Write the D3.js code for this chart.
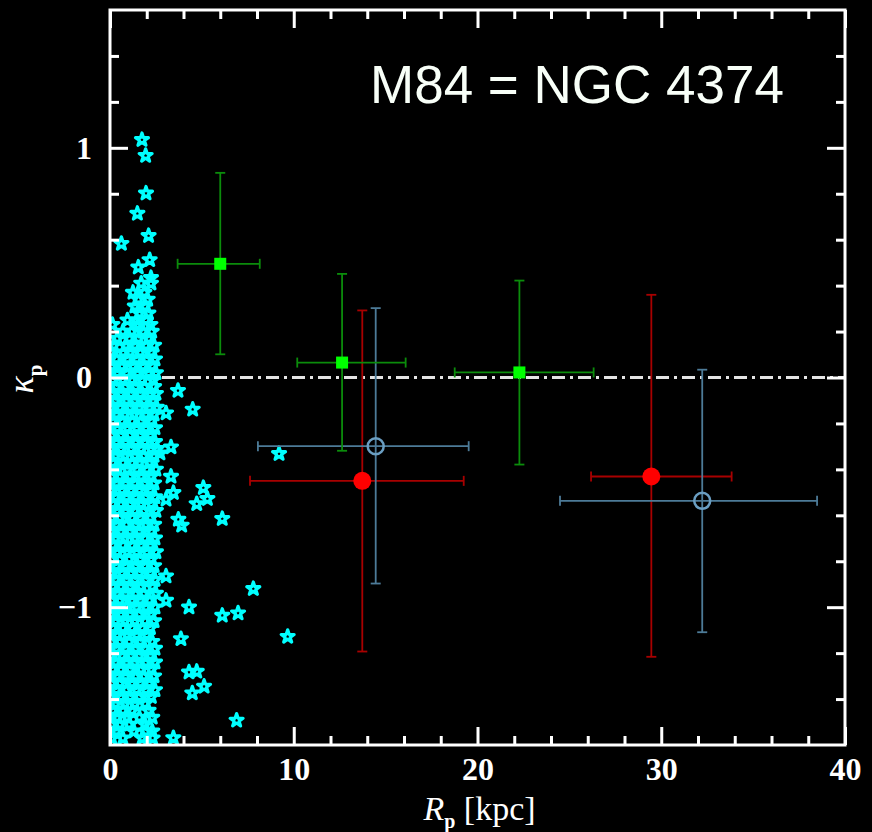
<!DOCTYPE html>
<html>
<head>
<meta charset="utf-8">
<script src="https://cdn.jsdelivr.net/npm/d3@7"></script>
<style>
  html, body { margin: 0; padding: 0; background: #000; }
  svg { display: block; }
</style>
</head>
<body>
<div id="chart"></div>
<script>
// Axis ticks
const xMajorTicks = [0, 10, 20, 30, 40];
const xMinorTicks = [2, 4, 6, 8, 12, 14, 16, 18, 22, 24, 26, 28, 32, 34, 36, 38];
const yMajorTicks = [-1, 0, 1];
const yMinorTicks = [-1.4, -1.2, -0.8, -0.6, -0.4, -0.2, 0.2, 0.4, 0.6, 0.8, 1.2, 1.4];

// Binned measurements: [R, kappa, R low, R high, kappa low, kappa high]
const greenBins = [
    [6.00, 0.495, 3.68, 8.15, 0.101, 0.891],
    [12.63, 0.065, 10.19, 16.09, -0.319, 0.451],
    [22.28, 0.022, 18.76, 26.32, -0.379, 0.422]
];
const redBins = [
    [13.73, -0.450, 7.62, 19.25, -1.193, 0.292],
    [29.46, -0.431, 26.18, 33.83, -1.216, 0.360]
];
const blueBins = [
    [14.46, -0.299, 8.05, 19.52, -0.897, 0.302],
    [32.23, -0.537, 24.49, 38.48, -1.109, 0.034]
];

// Individual stars away from the main column: [R, kappa]
const outlierStars = [
    [1.74, 1.035], [1.94, 0.966], [1.96, 0.802], [1.49, 0.714], [2.10, 0.617],
    [0.62, 0.583], [2.16, 0.512], [1.54, 0.480], [2.23, 0.434],
    [3.70, -0.057], [4.50, -0.139], [3.05, -0.155], [3.32, -0.303], [2.72, -0.330],
    [9.20, -0.332], [3.32, -0.431], [3.45, -0.502], [3.05, -0.531], [5.08, -0.480],
    [5.30, -0.528], [4.72, -0.550], [3.72, -0.618], [3.90, -0.644], [6.11, -0.615],
    [3.05, -0.865], [7.80, -0.920], [3.05, -0.971], [4.30, -1.000], [6.11, -1.036],
    [6.97, -1.026], [3.86, -1.138], [9.67, -1.128], [4.30, -1.283], [4.72, -1.280],
    [5.12, -1.345], [4.48, -1.374], [6.89, -1.493], [3.45, -1.569], [2.32, -1.570]
];

// Dense inner column of stars, read row by row: [kappa, [R values]]
const clusterRows = [
    [0.41, [1.70, 2.23]],
    [0.37, [1.25, 1.87]],
    [0.34, [1.55, 2.05]],
    [0.31, [1.35, 1.90]],
    [0.28, [1.60, 2.09]],
    [0.25, [0.95, 1.45, 1.95]],
    [0.23, [0.13, 1.54, 2.20]],
    [0.20, [0.70, 1.18, 1.80, 2.27]],
    [0.17, [0.40, 1.05, 1.55, 2.10]],
    [0.14, [0.20, 0.85, 1.35, 1.95, 2.40]],
    [0.11, [0.05, 0.72, 1.10, 1.65, 2.25]],
    [0.08, [0.35, 0.95, 1.45, 2.00, 2.45]],
    [0.05, [0.10, 0.65, 1.25, 1.80, 2.30]],
    [0.02, [0.40, 0.90, 1.50, 2.10, 2.50]],
    [-0.01, [0.15, 0.70, 1.20, 1.75, 2.35]],
    [-0.04, [0.35, 0.85, 1.40, 1.90, 2.40]],
    [-0.07, [0.10, 0.60, 1.15, 1.65, 2.20, 2.50]],
    [-0.10, [0.30, 0.90, 1.35, 1.85, 2.35]],
    [-0.13, [0.05, 0.55, 1.10, 1.60, 2.15, 2.55]],
    [-0.16, [0.35, 0.80, 1.30, 1.95, 2.40]],
    [-0.19, [0.15, 0.65, 1.20, 1.70, 2.25]],
    [-0.22, [0.40, 0.95, 1.45, 1.95, 2.45]],
    [-0.25, [0.10, 0.60, 1.10, 1.65, 2.20]],
    [-0.28, [0.35, 0.85, 1.40, 1.90, 2.45]],
    [-0.31, [0.05, 0.60, 1.15, 1.70, 2.25, 2.55]],
    [-0.34, [0.30, 0.80, 1.35, 1.85, 2.40]],
    [-0.37, [0.15, 0.70, 1.20, 1.60, 2.15]],
    [-0.40, [0.40, 0.95, 1.45, 2.00, 2.50]],
    [-0.43, [0.10, 0.55, 1.10, 1.70, 2.25]],
    [-0.46, [0.35, 0.85, 1.35, 1.90, 2.40]],
    [-0.49, [0.05, 0.65, 1.15, 1.60, 2.20]],
    [-0.52, [0.30, 0.90, 1.40, 1.95, 2.45]],
    [-0.55, [0.15, 0.60, 1.10, 1.70, 2.25]],
    [-0.58, [0.40, 0.85, 1.35, 1.85, 2.50]],
    [-0.61, [0.10, 0.55, 1.20, 1.65, 2.20]],
    [-0.64, [0.35, 0.90, 1.40, 1.95, 2.40]],
    [-0.67, [0.05, 0.60, 1.10, 1.60, 2.25]],
    [-0.70, [0.30, 0.80, 1.35, 1.90, 2.45]],
    [-0.73, [0.15, 0.70, 1.20, 1.70, 2.20]],
    [-0.76, [0.40, 0.95, 1.45, 2.00, 2.50]],
    [-0.79, [0.10, 0.55, 1.05, 1.65, 2.25]],
    [-0.82, [0.35, 0.85, 1.40, 1.90, 2.40]],
    [-0.85, [0.05, 0.65, 1.15, 1.60, 2.20]],
    [-0.88, [0.30, 0.90, 1.35, 1.95, 2.45]],
    [-0.91, [0.15, 0.60, 1.10, 1.70, 2.30]],
    [-0.94, [0.40, 0.85, 1.40, 1.85, 2.50]],
    [-0.97, [0.10, 0.55, 1.20, 1.65, 2.15]],
    [-1.00, [0.35, 0.90, 1.45, 1.95, 2.45]],
    [-1.03, [0.05, 0.60, 1.10, 1.60, 2.25]],
    [-1.06, [0.30, 0.80, 1.35, 1.90, 2.40]],
    [-1.09, [0.15, 0.70, 1.20, 1.75, 2.20]],
    [-1.12, [0.40, 0.95, 1.45, 2.00]],
    [-1.15, [0.10, 0.55, 1.05, 1.65, 2.30]],
    [-1.18, [0.35, 0.85, 1.40, 1.90, 2.45]],
    [-1.21, [0.05, 0.65, 1.15, 1.60, 2.20]],
    [-1.24, [0.30, 0.90, 1.35, 1.95, 2.45]],
    [-1.27, [0.15, 0.60, 1.10, 1.70, 2.25]],
    [-1.30, [0.40, 0.85, 1.40, 1.85, 2.40]],
    [-1.33, [0.10, 0.55, 1.20, 1.65, 2.15]],
    [-1.36, [0.35, 0.90, 1.45, 1.95, 2.45]],
    [-1.39, [0.05, 0.60, 1.10, 1.60, 2.25]],
    [-1.42, [0.30, 0.80, 1.35, 1.90]],
    [-1.45, [0.15, 0.70, 1.20, 2.10]],
    [-1.48, [0.40, 0.95, 1.60, 2.30]],
    [-1.51, [0.10, 0.55, 1.05, 1.90]],
    [-1.54, [0.35, 1.30, 1.95, 2.30]],
    [-1.57, [0.10, 0.70, 1.75]]
];

const stars = outlierStars.concat(
    clusterRows.flatMap(([k, rs]) => rs.map(r => [r, k]))
);

// SVG setup
const margin = { top: 10, right: 27, bottom: 87, left: 110 };
const width = 735;
const height = 735;

const svg = d3.select("#chart")
    .append("svg")
    .attr("width", 872)
    .attr("height", 832)
    .style("background", "#000");

const g = svg.append("g")
    .attr("transform", `translate(${margin.left},${margin.top})`);

// Scales
const x = d3.scaleLinear().domain([0, 40]).range([0, width]);
const y = d3.scaleLinear().domain([-1.6, 1.6]).range([height, 0]);

g.append("clipPath")
    .attr("id", "plot-clip")
    .append("rect")
    .attr("width", width)
    .attr("height", height);

const plot = g.append("g").attr("clip-path", "url(#plot-clip)");

// Zero line (dash-dot)
plot.append("line")
    .attr("x1", x(0))
    .attr("x2", x(40))
    .attr("y1", y(0))
    .attr("y2", y(0))
    .attr("stroke", "#e4e4e4")
    .attr("stroke-width", 3)
    .attr("stroke-dasharray", "13,5,3,5");

// Stars
plot.selectAll(".star")
    .data(stars)
    .enter()
    .append("path")
    .attr("class", "star")
    .attr("transform", d => `translate(${x(d[0])},${y(d[1])})`)
    .attr("d", d3.symbol(d3.symbolStar).size(52))
    .attr("fill", "none")
    .attr("stroke", "#00ffff")
    .attr("stroke-width", 3.2)
    .attr("stroke-linejoin", "round");

// Error bars
function drawErrors(data, color) {
    const cap = 5;
    const grp = plot.append("g")
        .attr("stroke", color)
        .attr("stroke-width", 1.8)
        .attr("fill", "none");
    data.forEach(d => {
        const [r, k, r0, r1, k0, k1] = d;
        grp.append("line").attr("x1", x(r0)).attr("x2", x(r1)).attr("y1", y(k)).attr("y2", y(k));
        grp.append("line").attr("x1", x(r)).attr("x2", x(r)).attr("y1", y(k0)).attr("y2", y(k1));
        grp.append("line").attr("x1", x(r0)).attr("x2", x(r0)).attr("y1", y(k) - cap).attr("y2", y(k) + cap);
        grp.append("line").attr("x1", x(r1)).attr("x2", x(r1)).attr("y1", y(k) - cap).attr("y2", y(k) + cap);
        grp.append("line").attr("x1", x(r) - cap).attr("x2", x(r) + cap).attr("y1", y(k0)).attr("y2", y(k0));
        grp.append("line").attr("x1", x(r) - cap).attr("x2", x(r) + cap).attr("y1", y(k1)).attr("y2", y(k1));
    });
}

drawErrors(redBins, "#a80000");
drawErrors(blueBins, "#4d7b98");
drawErrors(greenBins, "#0b8c0b");

// Markers
plot.selectAll(".red-pt")
    .data(redBins)
    .enter()
    .append("circle")
    .attr("cx", d => x(d[0]))
    .attr("cy", d => y(d[1]))
    .attr("r", 9)
    .attr("fill", "#ff0000");

plot.selectAll(".blue-pt")
    .data(blueBins)
    .enter()
    .append("circle")
    .attr("cx", d => x(d[0]))
    .attr("cy", d => y(d[1]))
    .attr("r", 8)
    .attr("fill", "none")
    .attr("stroke", "#6a9ec2")
    .attr("stroke-width", 2.5);

plot.selectAll(".green-pt")
    .data(greenBins)
    .enter()
    .append("rect")
    .attr("x", d => x(d[0]) - 6)
    .attr("y", d => y(d[1]) - 6)
    .attr("width", 12)
    .attr("height", 12)
    .attr("fill", "#00ff00");

// Axes
const tickFont = "'Liberation Serif', 'Times New Roman', serif";

function styleAxis(sel) {
    sel.select(".domain").remove();
    sel.selectAll(".tick line").attr("stroke", "#fff").attr("stroke-width", 3);
    sel.selectAll(".tick text")
        .attr("fill", "#fff")
        .style("font-family", tickFont)
        .style("font-weight", "bold")
        .style("font-size", "32px");
}

g.append("g")
    .attr("transform", `translate(0,${height})`)
    .call(d3.axisBottom(x).tickValues(xMajorTicks).tickSize(-18).tickPadding(12).tickFormat(d3.format("d")))
    .call(styleAxis);
g.append("g")
    .attr("transform", `translate(0,${height})`)
    .call(d3.axisBottom(x).tickValues(xMinorTicks).tickSize(-9).tickFormat(""))
    .call(styleAxis);
g.append("g")
    .call(d3.axisTop(x).tickValues(xMajorTicks).tickSize(-18).tickFormat(""))
    .call(styleAxis);
g.append("g")
    .call(d3.axisTop(x).tickValues(xMinorTicks).tickSize(-9).tickFormat(""))
    .call(styleAxis);

g.append("g")
    .call(d3.axisLeft(y).tickValues(yMajorTicks).tickSize(-18).tickPadding(18)
        .tickFormat(d => d < 0 ? "\u2212" + Math.abs(d) : d))
    .call(styleAxis);
g.append("g")
    .call(d3.axisLeft(y).tickValues(yMinorTicks).tickSize(-9).tickFormat(""))
    .call(styleAxis);
g.append("g")
    .attr("transform", `translate(${width},0)`)
    .call(d3.axisRight(y).tickValues(yMajorTicks).tickSize(-18).tickFormat(""))
    .call(styleAxis);
g.append("g")
    .attr("transform", `translate(${width},0)`)
    .call(d3.axisRight(y).tickValues(yMinorTicks).tickSize(-9).tickFormat(""))
    .call(styleAxis);

// Frame
g.append("rect")
    .attr("width", width)
    .attr("height", height)
    .attr("fill", "none")
    .attr("stroke", "#fff")
    .attr("stroke-width", 3);

// Axis labels
const xLabel = g.append("text")
    .attr("x", width / 2 + 2)
    .attr("y", height + 75)
    .attr("text-anchor", "middle")
    .attr("fill", "#fff")
    .style("font-family", tickFont)
    .style("font-size", "34px");
xLabel.append("tspan").style("font-style", "italic").text("R");
xLabel.append("tspan").attr("dy", 8).style("font-size", "20px").style("font-weight", "bold").text("p");
xLabel.append("tspan").attr("dy", -8).text(" [kpc]");

const yLabel = svg.append("text")
    .attr("transform", "translate(33,379) rotate(-90)")
    .attr("text-anchor", "middle")
    .attr("fill", "#fff")
    .style("font-family", tickFont)
    .style("font-size", "36px");
yLabel.append("tspan").style("font-style", "italic").text("\u03ba");
yLabel.append("tspan").attr("dy", 9).style("font-size", "21px").style("font-weight", "bold").text("p");

// Title
svg.append("text")
    .attr("x", 370)
    .attr("y", 103)
    .attr("fill", "#f8fff8")
    .style("font-family", "'Liberation Sans', Arial, Helvetica, sans-serif")
    .style("font-size", "53px")
    .text("M84 = NGC 4374");
</script>
</body>
</html>
